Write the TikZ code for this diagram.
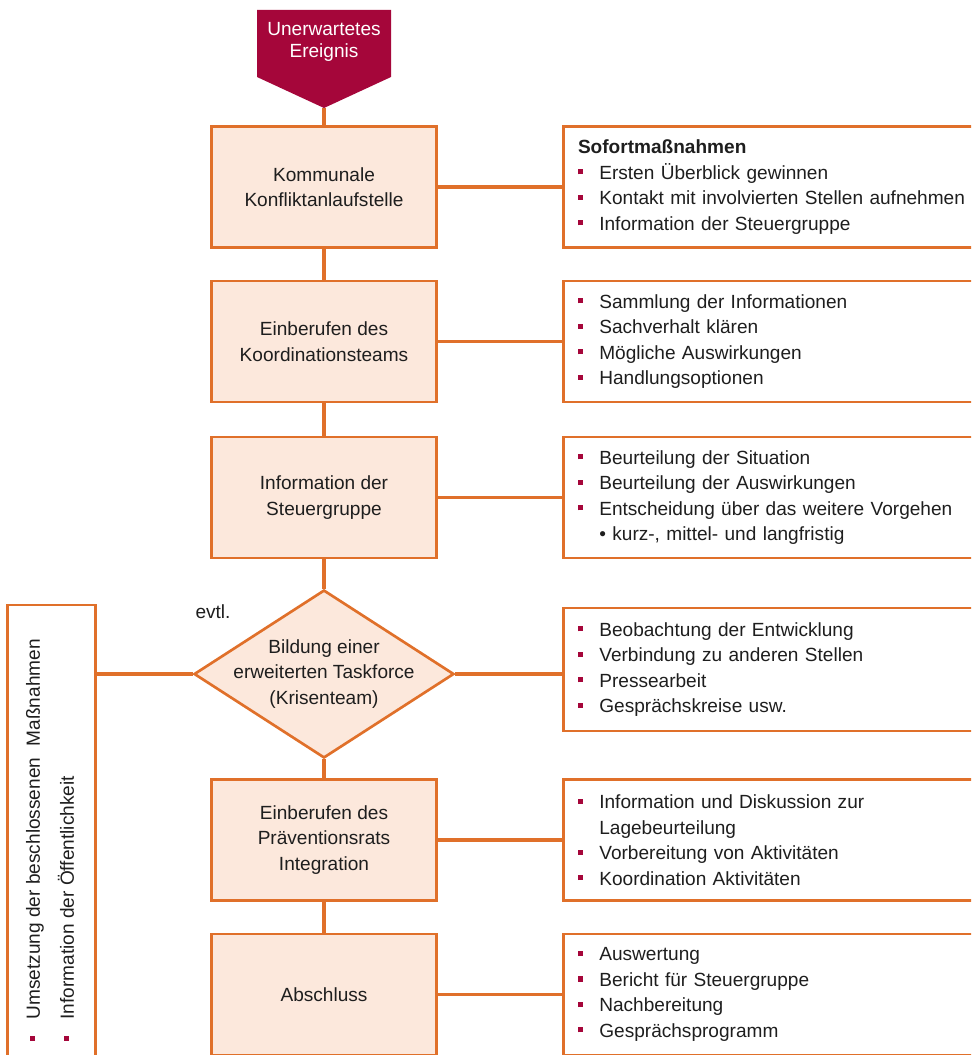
\documentclass[tikz,border=0pt]{standalone}
\usepackage{fontspec}
\setmainfont{Liberation Sans}
\usetikzlibrary{positioning,shapes.geometric}
\definecolor{KOrange}{HTML}{E0702A}
\definecolor{KFill}{HTML}{FCE8DC}
\definecolor{KRed}{HTML}{A5063A}
\definecolor{KText}{HTML}{1E1E1E}
% roter Aufzaehlungspunkt
\newcommand{\kitem}{\makebox[16pt][l]{\textcolor{KRed}{\rule[3.6pt]{3.9pt}{3.9pt}}}}
\newcommand{\keinzug}{\hspace*{16pt}}

\begin{document}
\begin{tikzpicture}[x=0.75pt,y=-0.75pt,
  every node/.style={font=\fontsize{14.3}{19.1}\selectfont, text=KText},
  schritt/.style={draw=KOrange, line width=2pt, fill=KFill, align=center,
    minimum width=168.75pt, minimum height=90.75pt},
  info/.style={draw=KOrange, line width=2pt, anchor=west, align=left,
    text width=300.5pt, inner xsep=11pt, minimum height=90.75pt},
  raute/.style={diamond, draw=KOrange, line width=2pt, fill=KFill, inner sep=0pt,
    minimum width=195pt, minimum height=126pt},
  linie/.style={KOrange, line width=2.3pt}]
  \clip (0,0) rectangle (971,1055);

  % Ausloeser
  \fill[KRed] (257,10) -- (391,10) -- (391,77) -- (324,108) -- (257,77) -- cycle;
  \coordinate (spitze) at (324,108);
  \node[text=white, align=center, font=\fontsize{14.3}{16.5}\selectfont] (ereignis) at (324,42) {Unerwartetes\\Ereignis};

  % Ablauf
  \node[schritt] (kom) at (324,187) {Kommunale\\Konfliktanlaufstelle};
  \node[schritt] (koord) at (324,341.5) {Einberufen des\\Koordinationsteams};
  \node[schritt] (steuer) at (324,497.5) {Information der\\Steuergruppe};
  \node[raute] (task) at (324,674) {};
  \node[align=center] (tasktext) at (task.center) {Bildung einer\\erweiterten Taskforce\\(Krisenteam)};
  \node (evtl) at (213,612) {evtl.};
  \node[schritt] (praev) at (324,840) {Einberufen des\\Präventionsrats\\Integration};
  \node[schritt] (absch) at (324,994.5) {Abschluss};

  % Massnahmen rechts
  \node[info] (r1) at (562,187) {\textbf{Sofortmaßnahmen}\\
    \kitem Ersten Überblick gewinnen\\
    \kitem Kontakt mit involvierten Stellen aufnehmen\\
    \kitem Information der Steuergruppe};
  \node[info] (r2) at (562,341.5) {\kitem Sammlung der Informationen\\
    \kitem Sachverhalt klären\\
    \kitem Mögliche Auswirkungen\\
    \kitem Handlungsoptionen};
  \node[info] (r3) at (562,497.5) {\kitem Beurteilung der Situation\\
    \kitem Beurteilung der Auswirkungen\\
    \kitem Entscheidung über das weitere Vorgehen\\
    \keinzug\textbullet\ kurz-, mittel- und langfristig};
  \node[info, minimum height=92.25pt] (r4) at (562,669.5) {\kitem Beobachtung der Entwicklung\\
    \kitem Verbindung zu anderen Stellen\\
    \kitem Pressearbeit\\
    \kitem Gesprächskreise usw.};
  \node[info] (r5) at (562,840) {\kitem Information und Diskussion zur\\
    \keinzug Lagebeurteilung\\
    \kitem Vorbereitung von Aktivitäten\\
    \kitem Koordination Aktivitäten};
  \node[info] (r6) at (562,994.5) {\kitem Auswertung\\
    \kitem Bericht für Steuergruppe\\
    \kitem Nachbereitung\\
    \kitem Gesprächsprogramm};

  % Kasten links
  \node[draw=KOrange, line width=2pt, minimum width=66pt, minimum height=348.75pt] (links) at (51.5,837.5) {};
  \node[rotate=90, anchor=west, align=left, inner sep=0pt, font=\fontsize{14.3}{25.5}\selectfont]
    (linkstext) at (50,1041) {\kitem Umsetzung der beschlossenen\hspace{0.6em}Maßnahmen\\
    \kitem Information der Öffentlichkeit};

  % Verbindungen
  \draw[linie] (spitze) -- (kom.north);
  \draw[linie] (kom) -- (koord);
  \draw[linie] (koord) -- (steuer);
  \draw[linie] (steuer) -- (task.north);
  \draw[linie] (task.south) -- (praev);
  \draw[linie] (praev) -- (absch);
  \draw[linie] (kom) -- (r1);
  \draw[linie] (koord) -- (r2);
  \draw[linie] (steuer) -- (r3);
  \draw[linie] (task.east) -- (task.east -| r4.west);
  \draw[linie] (praev) -- (r5);
  \draw[linie] (absch) -- (r6);
  \draw[linie] (task.west) -- (task.west -| links.east);
\end{tikzpicture}
\end{document}
